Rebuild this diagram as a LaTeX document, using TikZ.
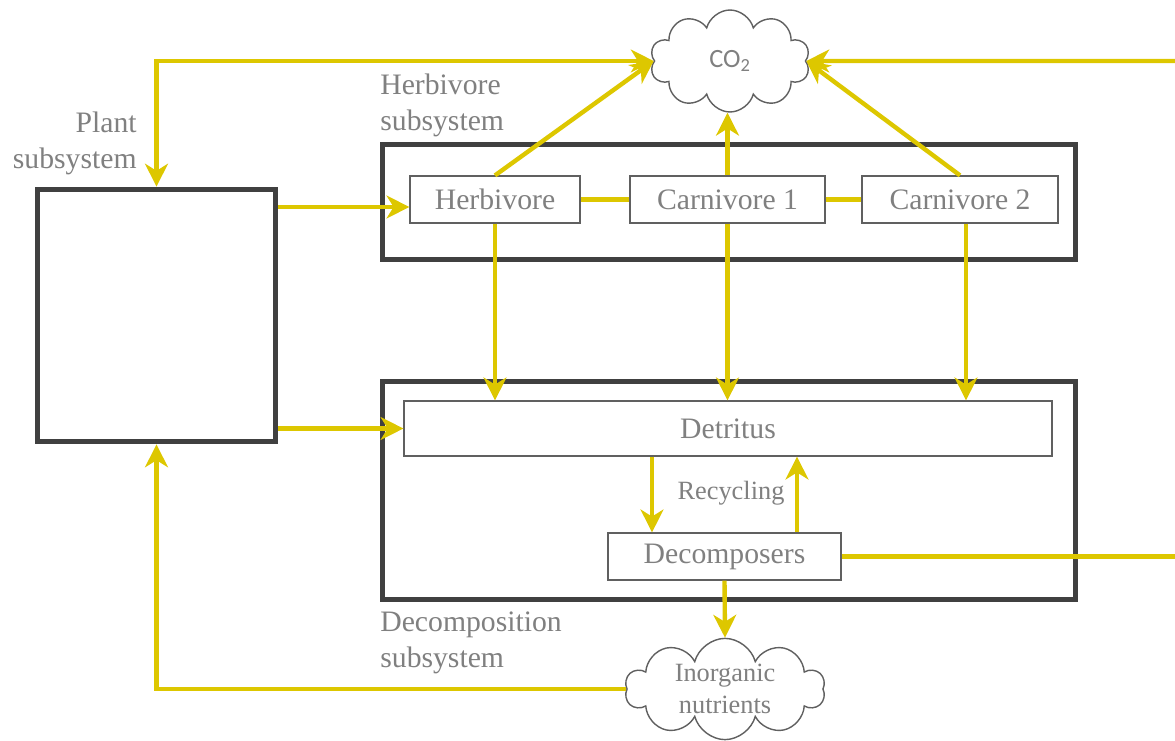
\documentclass[tikz,border=0pt]{standalone}
\usepackage{fontspec}
\setmainfont{Liberation Serif}
\newfontfamily\cofont{Carlito}
\usetikzlibrary{shapes.symbols,arrows.meta}
\definecolor{flowyellow}{RGB}{221,199,0}
\definecolor{boxgray}{RGB}{64,64,64}
\definecolor{textgray}{RGB}{128,128,128}
\definecolor{edgegray}{RGB}{96,96,96}

\begin{document}
\begin{tikzpicture}[x=0.02cm,y=-0.02cm,
  sysbox/.style={draw=boxgray,line width=3.3pt,inner sep=0pt},
  unit/.style={draw=edgegray,line width=0.7pt,text=textgray,minimum height=0.94cm,inner sep=0pt,font=\fontsize{16.9}{20}\selectfont},
  lbl/.style={text=textgray,align=left,inner sep=0pt,font=\fontsize{16.9}{20.5}\selectfont},
  puff/.style={cloud,cloud puffs=10,cloud ignores aspect,draw=edgegray,line width=0.8pt,fill=white,text=textgray,inner sep=0pt},
  flow/.style={draw=flowyellow,line width=2.5pt},
  >={Stealth[length=13pt,width=13pt,inset=4pt]}]
\useasboundingbox (0,0) rectangle (1175,740);
\node[sysbox,minimum width=4.76cm,minimum height=5.04cm] (plant) at (156.5,315.5) {};
\node[sysbox,minimum width=13.86cm,minimum height=2.3cm] (herbsys) at (729,202) {};
\node[sysbox,minimum width=13.86cm,minimum height=4.36cm] (decsys) at (729,490.5) {};
\node[unit,minimum width=3.4cm] (herb) at (495,199.5) {Herbivore};
\node[unit,minimum width=3.9cm] (carn1) at (727.5,199.5) {Carnivore 1};
\node[unit,minimum width=3.92cm] (carn2) at (960,199.5) {Carnivore 2};
\node[unit,minimum width=12.96cm,minimum height=1.1cm] (detritus) at (728,428.5) {Detritus};
\node[unit,minimum width=4.66cm] (decomp) at (724.5,556.5) {Decomposers};
\node[puff,minimum width=3.2cm,minimum height=2.04cm,font=\cofont\fontsize{15}{18}\selectfont] (co2) at (730,61) {CO\textsubscript{2}};
\node[puff,minimum width=4cm,minimum height=1.96cm,align=center,font=\fontsize{15}{18.5}\selectfont] (nutr) at (725,689) {Inorganic\\nutrients};
\node[lbl,align=right,anchor=east] (plantlbl) at (137,143) {Plant\\subsystem};
\node[lbl,anchor=west] (herblbl) at (380,105) {Herbivore\\subsystem};
\node[lbl,anchor=west] (declbl) at (380,643) {Decomposition\\subsystem};
\node[text=textgray,inner sep=0pt,font=\fontsize{15}{18}\selectfont] (recyc) at (731,493) {Recycling};
\coordinate (co2edge) at (1175,61);
\coordinate (decedge) at (1175,556.5);
\coordinate (c2foot) at ([xshift=0.12cm]carn2.south);
\coordinate (recdown) at ([xshift=-1.52cm]detritus.south);
\coordinate (recup) at ([xshift=1.45cm]decomp.north);
\draw[flow,<->] (co2.west) -| (plant.north);
\draw[flow,->] (herb.north) -- (co2.west);
\draw[flow,->] (carn1.north) -- (carn1.north |- co2.south);
\draw[flow,->] (carn2.north) -- (co2.east);
\draw[flow,->] (co2edge) -- (co2.east);
\draw[flow,->] ([yshift=-0.15cm]plant.east |- herb.west) -- ([yshift=-0.15cm]herb.west);
\draw[flow,->] (plant.east |- detritus.west) -- (detritus.west);
\draw[flow] (herb) -- (carn1);
\draw[flow] (carn1) -- (carn2);
\draw[flow,->] (herb.south) -- (herb.south |- detritus.north);
\draw[flow,->] (carn1.south) -- (carn1.south |- detritus.north);
\draw[flow,->] (c2foot) -- (c2foot |- detritus.north);
\draw[flow,->] (recdown) -- (recdown |- decomp.north);
\draw[flow,->] (recup) -- (recup |- detritus.south);
\draw[flow] (decomp.east) -- (decedge);
\draw[flow,->] (decomp.south) -- (nutr.north);
\draw[flow,->] (nutr.west) -| (plant.south);
\end{tikzpicture}
\end{document}
